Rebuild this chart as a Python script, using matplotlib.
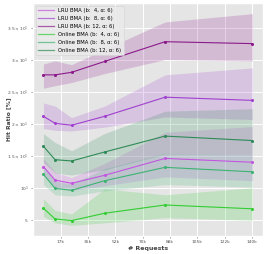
import numpy as np
import matplotlib
matplotlib.use("Agg")
import matplotlib.pyplot as plt
from matplotlib.lines import Line2D

# number of requests
requests = [6450, 13900, 24500, 45600, 84400, 140300]

# hit ratio means and band edges per configuration
lru_b4 = [13.3, 11.2, 10.7, 11.95, 14.6, 14.0]
lru_b4_lo = [12.0, 10.0, 9.6, 10.3, 11.7, 11.1]
lru_b4_hi = [14.6, 12.4, 11.6, 13.8, 18.7, 19.6]

lru_b8 = [21.2, 20.1, 19.8, 21.2, 24.2, 23.7]
lru_b8_lo = [19.3, 19.0, 18.9, 19.5, 21.1, 20.7]
lru_b8_hi = [23.3, 22.8, 21.0, 22.8, 27.7, 28.8]

lru_b12 = [27.7, 27.7, 28.1, 29.8, 32.9, 32.6]
lru_b12_lo = [25.6, 26.0, 26.5, 27.9, 30.1, 29.9]
lru_b12_hi = [29.4, 29.9, 29.3, 31.7, 36.0, 37.3]

onl_b4 = [6.8, 5.1, 4.85, 6.0, 7.3, 6.7]
onl_b4_lo = [5.5, 4.5, 4.1, 4.5, 5.3, 4.9]
onl_b4_hi = [8.3, 6.45, 5.9, 9.8, 8.9, 10.0]

onl_b8 = [12.1, 9.9, 9.6, 11.1, 13.2, 12.5]
onl_b8_lo = [10.5, 8.9, 8.7, 9.5, 10.5, 10.1]
onl_b8_hi = [13.5, 11.0, 10.6, 13.0, 15.4, 15.3]

onl_b12 = [16.5, 14.4, 14.2, 15.6, 18.1, 17.4]
onl_b12_lo = [14.0, 12.3, 12.0, 12.8, 15.3, 15.3]
onl_b12_hi = [18.5, 17.1, 15.8, 18.5, 22.0, 22.4]

xtick_vals = [17500, 35000, 52500, 70000, 87500, 105000, 122500, 140000]
xtick_labels = ["17k", "35k", "52k", "70k", "88k", "105k", "122k", "140k"]
ytick_vals = [5, 10, 15, 20, 25, 30, 35]
ytick_labels = [r"$\mathdefault{5}$", r"$\mathdefault{10^{1}}$",
                r"$\mathdefault{1.5\times10^{1}}$", r"$\mathdefault{2\times10^{1}}$",
                r"$\mathdefault{2.5\times10^{1}}$", r"$\mathdefault{3\times10^{1}}$",
                r"$\mathdefault{3.5\times10^{1}}$"]

series = [
    ("LRU BMA (b:  4, \u03b1: 6)", lru_b4, lru_b4_lo, lru_b4_hi, "#c355e0"),
    ("LRU BMA (b:  8, \u03b1: 6)", lru_b8, lru_b8_lo, lru_b8_hi, "#a040d0"),
    ("LRU BMA (b: 12, \u03b1: 6)", lru_b12, lru_b12_lo, lru_b12_hi, "#8b1a8b"),
    ("Online BMA (b:  4, \u03b1: 6)", onl_b4, onl_b4_lo, onl_b4_hi, "#32cd32"),
    ("Online BMA (b:  8, \u03b1: 6)", onl_b8, onl_b8_lo, onl_b8_hi, "#3cb371"),
    ("Online BMA (b: 12, \u03b1: 6)", onl_b12, onl_b12_lo, onl_b12_hi, "#2e8b57"),
]

plt.style.use("ggplot")
fig = plt.figure(figsize=(2.66, 2.54), dpi=100)
ax = fig.add_axes([0.124, 0.071, 0.864, 0.917])

handles = []
for label, mean, lo, hi, col in series:
    ax.fill_between(requests, lo, hi, color=col, alpha=0.2, linewidth=0)
    ax.plot(requests, mean, color=col, lw=0.8, marker="o", markersize=1.2)
    handles.append(Line2D([], [], color=col, lw=0.9, alpha=0.7, label=label))

ax.set_xticks(xtick_vals)
ax.set_xticklabels(xtick_labels)
ax.set_yticks(ytick_vals)
ax.set_yticklabels(ytick_labels)
ax.tick_params(labelsize=3.2, colors="#555555", length=1.5, width=0.4, pad=1.5)
ax.grid(True, color="white", lw=0.7)

ax.set_xlabel("# Requests", fontsize=4.5, fontweight="bold", color="#444444", labelpad=1.5)
ax.set_ylabel("Hit Ratio [%]", fontsize=4.3, fontweight="bold", color="#444444")
ax.yaxis.set_label_coords(-0.095, 0.5)

leg = ax.legend(handles=handles, loc="upper left", fontsize=3.8, handlelength=3,
                borderpad=0.5, labelspacing=0.55, facecolor="#eaeaea",
                edgecolor="#d0d0d0", framealpha=0.9)
leg.get_frame().set_linewidth(0.4)

fig.savefig("out.png", dpi=100)
